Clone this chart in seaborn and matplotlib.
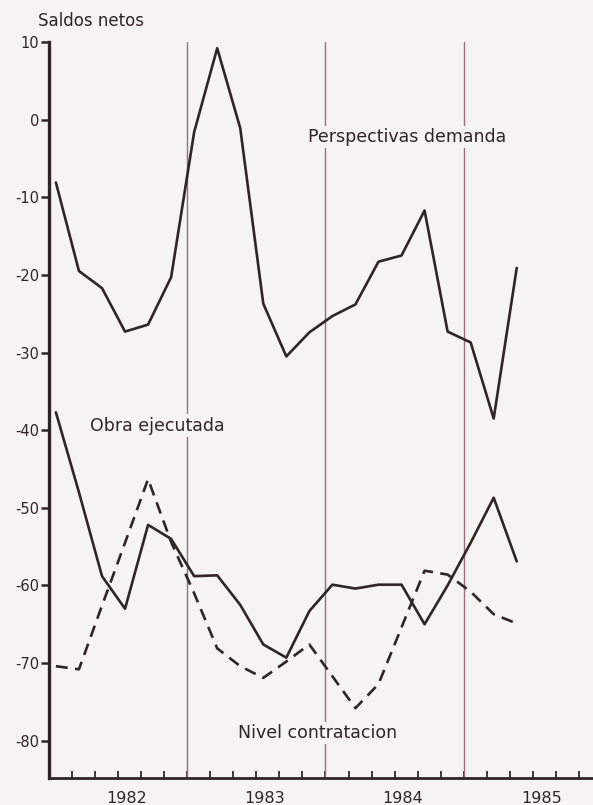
import numpy as np
import pandas as pd
import matplotlib
matplotlib.use("Agg")
import matplotlib.pyplot as plt
import seaborn as sns

sns.set_style("white")
plt.rcParams['font.family'] = ['DejaVu Sans']

# Bimonthly survey readings, Jan-Feb 1982 .. May-Jun 1985 (saldos netos)
periods = np.arange(21)
perspectivas_demanda = [-8.1, -19.5, -21.7, -27.3, -26.4, -20.3, -1.6, 9.2, -1.1, -23.7,
                        -30.5, -27.4, -25.3, -23.8, -18.3, -17.5, -11.7, -27.3, -28.7, -38.5, -19.1]
obra_ejecutada = [-37.7, -48.0, -58.8, -63.0, -52.2, -54.0, -58.8, -58.7, -62.5, -67.6,
                  -69.3, -63.3, -59.9, -60.4, -59.9, -59.9, -65.0, -60.0, -54.5, -48.7, -56.9]
nivel_contratacion = [-70.4, -70.8, -62.6, -54.5, -46.3, -54.4, -61.0, -68.1, -70.4, -71.9,
                      -69.8, -67.6, -71.7, -75.8, -72.7, -65.4, -58.1, -58.6, -60.8, -63.7, -64.9]
years = [1982, 1983, 1984, 1985]
y_ticks = [10, 0, -10, -20, -30, -40, -50, -60, -70, -80]

# each reading sits early in its two-month period
fecha = 1982 + (periods * 2 + 0.6) / 12
df = pd.DataFrame({
    "fecha": np.concatenate([fecha] * 3),
    "saldo": perspectivas_demanda + obra_ejecutada + nivel_contratacion,
    "serie": ["Perspectivas demanda"] * 21 + ["Obra ejecutada"] * 21 + ["Nivel contratacion"] * 21,
})

bg = '#f5f4f1'
ink = '#2f2624'

fig = plt.figure(figsize=(5.93, 8.05), dpi=100, facecolor=bg)
ax = fig.add_axes([49 / 593, 1 - 778 / 805, 1 - 49 / 593, (778 - 42) / 805])
ax.set_facecolor(bg)

# year boundaries
for yr in years[1:]:
    ax.axvline(yr, color='#9c6c7c', lw=1.0, zorder=1)

sns.lineplot(data=df, x="fecha", y="saldo", hue="serie", style="serie",
             palette={"Perspectivas demanda": ink, "Obra ejecutada": ink, "Nivel contratacion": ink},
             dashes={"Perspectivas demanda": "", "Obra ejecutada": "", "Nivel contratacion": (4.5, 2.8)},
             lw=1.9, legend=False, ax=ax, zorder=3)

ax.set_xlim(1982, 1982 + (593 - 48) / 138.5)
ax.set_ylim(-84.8, 10)

ax.set_yticks(y_ticks)
ax.set_yticklabels([str(v) for v in y_ticks], fontsize=10.5, color=ink)
ax.tick_params(axis='y', left=True, direction='out', length=6, width=1.8, color=ink, pad=1)

ax.set_xticks([yr + 0.56 for yr in years])
ax.set_xticklabels([str(yr) for yr in years], fontsize=11.5, color=ink)
ax.set_xticks(np.arange(1982, 1986, 1 / 6), minor=True)
ax.tick_params(axis='x', which='major', bottom=True, length=0, pad=9)
ax.tick_params(axis='x', which='minor', bottom=True, direction='in', length=5, width=1.3, color=ink)

for side in ['top', 'right']:
    ax.spines[side].set_visible(False)
ax.spines['left'].set_linewidth(2.4)
ax.spines['bottom'].set_linewidth(2.0)
ax.spines['left'].set_color(ink)
ax.spines['bottom'].set_color(ink)
ax.set_xlabel("")
ax.set_ylabel("")

box = dict(facecolor=bg, edgecolor='none', pad=1.5)
ax.text(1982.30, -39.4, "Obra ejecutada", fontsize=12.5, color=ink, ha='left', va='center', bbox=box, zorder=2)
ax.text(1983.87, -2.2, "Perspectivas demanda", fontsize=12.5, color=ink, ha='left', va='center', bbox=box, zorder=2)
ax.text(1983.37, -79.0, "Nivel contratacion", fontsize=12.5, color=ink, ha='left', va='center', bbox=box, zorder=2)
fig.text(38 / 593, 1 - 21 / 805, "Saldos netos", fontsize=12, color=ink, ha='left', va='center')

fig.savefig("out.png", dpi=100, facecolor=bg)
